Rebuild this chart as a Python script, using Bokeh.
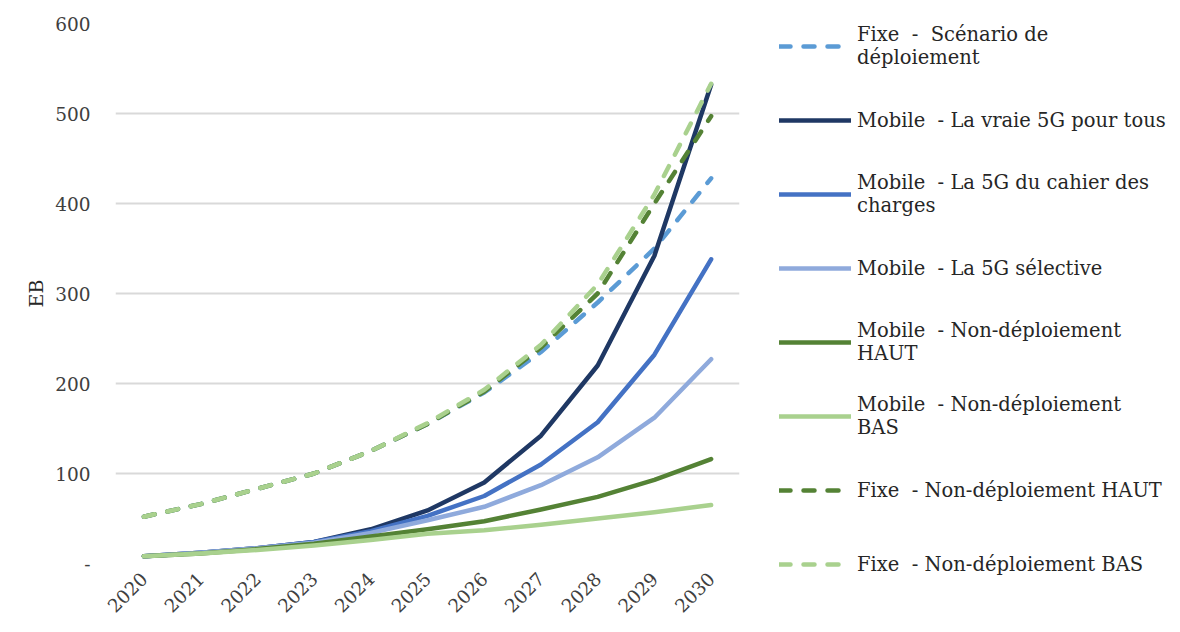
from bokeh.plotting import figure
from bokeh.models import FactorRange, Range1d, Legend, LegendItem, FixedTicker
from bokeh.embed import file_html
from bokeh.resources import INLINE
import math

years = ["2020", "2021", "2022", "2023", "2024", "2025", "2026", "2027", "2028", "2029", "2030"]

fixe_deploiement = [52, 66, 83, 100, 125, 155, 190, 235, 290, 350, 428]
mobile_vraie_5g = [8, 12, 17, 24, 38, 59, 90, 142, 220, 342, 532]
mobile_cahier = [8, 12, 17, 24, 36, 53, 75, 110, 157, 232, 338]
mobile_selective = [8, 12, 17, 23, 34, 48, 63, 87, 118, 162, 227]
mobile_non_haut = [8, 11, 16, 22, 30, 38, 47, 60, 74, 93, 116]
mobile_non_bas = [8, 11, 15, 20, 26, 33, 37, 43, 50, 57, 65]
fixe_non_haut = [52, 66, 83, 100, 125, 155, 191, 240, 300, 400, 497]
fixe_non_bas = [52, 66, 83, 100, 125, 156, 193, 243, 310, 410, 533]

labels = [
    "Fixe  -  Scénario de\ndéploiement",
    "Mobile  - La vraie 5G pour tous",
    "Mobile  - La 5G du cahier des\ncharges",
    "Mobile  - La 5G sélective",
    "Mobile  - Non-déploiement\nHAUT",
    "Mobile  - Non-déploiement\nBAS",
    "Fixe  - Non-déploiement HAUT",
    "Fixe  - Non-déploiement BAS",
]
series = [fixe_deploiement, mobile_vraie_5g, mobile_cahier, mobile_selective,
          mobile_non_haut, mobile_non_bas, fixe_non_haut, fixe_non_bas]
colors = ["#5b9bd5", "#1f3864", "#4472c4", "#8faadc", "#548235", "#a9d18e", "#548235", "#a9d18e"]
dashed = [True, False, False, False, False, False, True, True]

FONT = "DejaVu Serif"

p = figure(frame_width=624, frame_height=540, x_range=FactorRange(*years), y_range=Range1d(0, 600),
           output_backend="svg", toolbar_location=None,
           min_border_left=115, min_border_right=0, min_border_top=23, min_border_bottom=52)
p.outline_line_color = None
p.background_fill_color = "white"

items = []
for lab, s, c, d in zip(labels, series, colors, dashed):
    kw = dict(line_width=4.5, line_color=c, line_cap="round", line_join="round")
    if d:
        kw["line_dash"] = "11 13"
    r = p.line(years, s, **kw)
    items.append(LegendItem(label=lab, renderers=[r]))

legend = Legend(items=items, location=(40, -29))
legend.border_line_color = None
legend.background_fill_alpha = 0
legend.label_text_font = FONT
legend.label_text_font_size = "19.5px"
legend.label_text_color = "#262626"
legend.glyph_width = 72
legend.glyph_height = 20
legend.label_height = 56
legend.spacing = 18
legend.padding = 0
legend.margin = 0
legend.label_standoff = 6
p.add_layout(legend, "right")

p.yaxis.ticker = FixedTicker(ticks=[0, 100, 200, 300, 400, 500, 600])
p.yaxis.major_label_overrides = {0: "-"}
p.yaxis.axis_label = "EB"
p.yaxis.axis_label_text_font = FONT
p.yaxis.axis_label_text_font_style = "normal"
p.yaxis.axis_label_text_font_size = "19px"
p.yaxis.axis_label_text_color = "#262626"
for ax in [p.xaxis, p.yaxis]:
    ax.axis_line_color = None
    ax.major_tick_line_color = None
    ax.minor_tick_line_color = None
    ax.major_label_text_font = FONT
    ax.major_label_text_font_size = "18.5px"
    ax.major_label_text_color = "#404040"
p.yaxis.major_label_standoff = 19
p.xaxis.major_label_orientation = math.pi / 4
p.xaxis.major_label_standoff = 6

p.xgrid.grid_line_color = None
p.ygrid.grid_line_color = "#d9d9d9"
p.ygrid.grid_line_width = 2

open("out.html", "w").write(file_html(p, INLINE))
